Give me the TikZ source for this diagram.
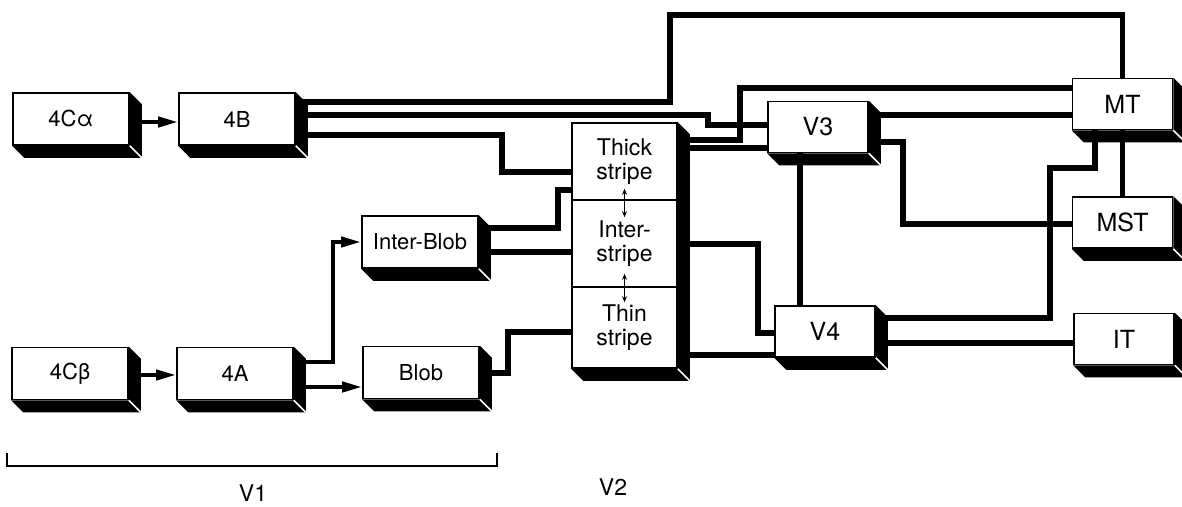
\documentclass[tikz,border=0pt]{standalone}
\usepackage{fontspec}
\setmainfont{TeX Gyre Heros}
\usetikzlibrary{arrows.meta}

\begin{document}
\begin{tikzpicture}[x=0.5pt, y=-0.5pt, >={Triangle[length=10pt,width=5pt]},
  block/.style={draw, fill=white, line width=0.8pt, inner sep=0pt, align=center},
  v1block/.style={block, minimum width=58pt, minimum height=26pt, font=\fontsize{11}{13}\selectfont},
  areablock/.style={block, minimum width=50pt, minimum height=25.5pt, font=\fontsize{12.5}{14}\selectfont},
  stripe/.style={block, minimum width=52.5pt, font=\fontsize{11.5}{12}\selectfont},
  wire/.style={line width=2.6pt},
  feed/.style={line width=2pt, ->}]
  \useasboundingbox (0,0) rectangle (1182,507);

  % V1 blocks
  \node[v1block] (c4a) at (71,119) {4Cα};
  \node[v1block] (b4) at (237,119) {4B};
  \node[v1block] (c4b) at (70,373.5) {4Cβ};
  \node[v1block] (a4) at (235,373.5) {4A};
  \node[v1block] (interblob) at (420,242) {Inter-Blob};
  \node[v1block] (blob) at (421,372.5) {Blob};

  % V2 stripes
  \node[stripe, minimum height=38.5pt] (thick) at (624.5,161.5) {Thick\\stripe};
  \node[stripe, minimum height=43.5pt] (inter) at (624.5,243.5) {Inter-\\stripe};
  \node[stripe, minimum height=40.5pt] (thin) at (624.5,327.5) {Thin\\stripe};
  \draw[<->, line width=0.5pt, >={Stealth[length=3pt,width=2.5pt]}] ([yshift=6pt]thick.south) -- ([yshift=-9pt]inter.north);
  \draw[<->, line width=0.5pt, >={Stealth[length=3pt,width=2.5pt]}] ([yshift=7pt]inter.south) -- ([yshift=-8pt]thin.north);

  % Higher areas
  \node[areablock] (v3) at (818,127) {V3};
  \node[areablock] (v4) at (825,331.5) {V4};
  \node[areablock] (mt) at (1122.5,104) {MT};
  \node[areablock] (mst) at (1122.5,222.5) {MST};
  \node[areablock] (it) at (1124,339) {IT};

  % Arrows inside V1
  \draw[feed] (c4a.east |- 0,122) -- (b4.west |- 0,122);
  \draw[feed] (c4b.east |- 0,375) -- (a4.west |- 0,375);
  \draw[feed] (a4.east |- 0,387) -- (blob.west |- 0,387);
  \draw[feed] (a4.east |- 0,362) -| (333,242) -- (interblob.west);

  % Wires out of V1
  \draw[wire] (b4.east |- 0,102) -| (670,15) -| (mt.north);
  \draw[wire] (b4.east |- 0,115) -| (708,125) -- (v3.west |- 0,125);
  \draw[wire] (b4.east |- 0,135) -| (502,172) -- (thick.west |- 0,172);
  \draw[wire] (interblob.east |- 0,228) -| (558,190) -- (thick.west |- 0,190);
  \draw[wire] (interblob.east |- 0,252) -- (inter.west |- 0,252);
  \draw[wire] (blob.east |- 0,373) -| (508,332) -- (thin.west |- 0,332);

  % Wires out of V2
  \draw[wire] (thick.east |- 0,140) -| (740,88) -- (mt.west |- 0,88);
  \draw[wire] (thick.east |- 0,148) -- (v3.west |- 0,148);
  \draw[wire] (inter.east |- 0,244) -| (758,333) -- (v4.west |- 0,333);
  \draw[wire] (thin.east |- 0,355) -- (v4.west |- 0,355);

  % Wires between the areas
  \draw[wire] (v3.east |- 0,115) -- (mt.west |- 0,115);
  \draw[wire] (v3.east |- 0,142) -| (903,224) -- (mst.west |- 0,224);
  \draw[wire] (v3.south -| 800,0) -- (v4.north -| 800,0);
  \draw[wire] (mt.south) -- (mst.north);
  \draw[wire] (mt.south -| 1095,0) |- (1050,168) |- (v4.east |- 0,318);
  \draw[wire] (v4.east |- 0,343) -- (it.west |- 0,343);

  % Dark sides of the blocks
  \foreach \boxtop/\boxbot in {c4a/c4a, b4/b4, c4b/c4b, a4/a4, interblob/interblob, blob/blob,
      thick/thin, v3/v3, v4/v4, mt/mt, mst/mst, it/it} {
    \fill (\boxtop.north east) -- ++(12,12) |- ([shift={(12,12)}]\boxbot.south west)
      -- (\boxbot.south west) -- (\boxbot.south east) -- cycle;
    \draw[white, line width=0.8pt] (\boxbot.south east) -- ++(12,12);
  }

  % Extent of V1
  \draw[line width=1.2pt] (7,453) -- (7,466) -- (497,466) -- (497,453);
  \node[font=\fontsize{11.5}{13}\selectfont] (v1lab) at (253,493) {V1};
  \node[font=\fontsize{11.5}{13}\selectfont] (v2lab) at (613,487) {V2};
\end{tikzpicture}
\end{document}
